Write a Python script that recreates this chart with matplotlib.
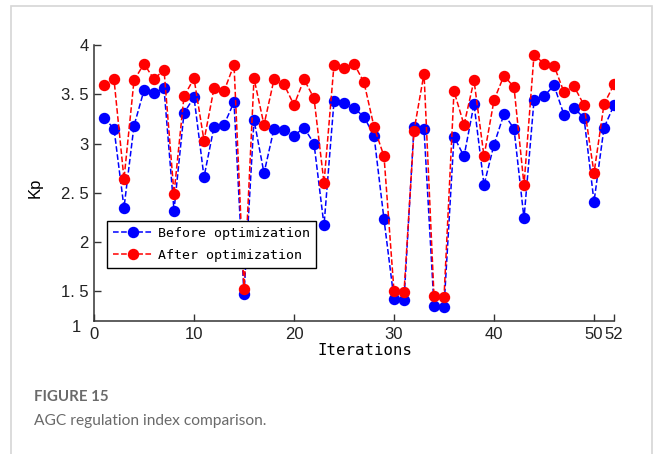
import matplotlib
matplotlib.use('Agg')
import matplotlib.pyplot as plt
from matplotlib.patches import Rectangle

iterations = list(range(1, 53))

before_opt = [3.26, 3.15, 2.35, 3.18, 3.54, 3.51, 3.56, 2.32, 3.31, 3.47,
              2.66, 3.17, 3.19, 3.42, 1.47, 3.24, 2.70, 3.15, 3.14, 3.08,
              3.16, 3.00, 2.17, 3.43, 3.41, 3.36, 3.27, 3.08, 2.23, 1.42,
              1.41, 3.17, 3.15, 1.35, 1.34, 3.07, 2.87, 3.40, 2.58, 2.99,
              3.30, 3.15, 2.24, 3.44, 3.48, 3.59, 3.29, 3.36, 3.26, 2.41,
              3.16, 3.39]

after_opt = [3.59, 3.65, 2.64, 3.64, 3.81, 3.65, 3.75, 2.49, 3.48, 3.66,
             3.03, 3.56, 3.53, 3.80, 1.52, 3.66, 3.19, 3.65, 3.60, 3.39,
             3.65, 3.46, 2.60, 3.80, 3.77, 3.81, 3.62, 3.17, 2.87, 1.50,
             1.49, 3.13, 3.71, 1.45, 1.44, 3.53, 3.19, 3.64, 2.87, 3.44,
             3.69, 3.57, 2.58, 3.90, 3.81, 3.79, 3.52, 3.58, 3.39, 2.70,
             3.40, 3.60]

xticks = [0, 10, 20, 30, 40, 50, 52]
yticks = [1.5, 2, 2.5, 3, 3.5, 4]
ytick_labels = ['1. 5', '2', '2. 5', '3', '3. 5', '4']

mono = 'DejaVu Sans Mono'
sans = 'Liberation Sans'

fig = plt.figure(figsize=(6.56, 4.54), dpi=100)

# light frame around the figure panel
fig.patches.append(Rectangle((0.0168, -0.02), 0.977, 1.0068, transform=fig.transFigure,
                             fill=False, edgecolor='#d6d6d6', linewidth=1.2))

ax = fig.add_axes([0.1433, 0.293, 0.7927, 0.608])

ax.plot(iterations, before_opt, '--o', color='#0000ff', lw=1.1, ms=7.2,
        label='Before optimization')
ax.plot(iterations, after_opt, '--o', color='#ff0000', lw=1.1, ms=7.2,
        label='After optimization')

ax.set_xlim(0, 52)
ax.set_ylim(1.2, 4.0)
ax.set_xticks(xticks)
ax.set_xticklabels([str(t) for t in xticks], fontfamily=sans, fontsize=12)
ax.set_yticks(yticks)
ax.set_yticklabels(ytick_labels, fontfamily=sans, fontsize=12)
ax.tick_params(direction='in', length=5, width=1, pad=4, color='#333333',
               labelcolor='#222222')
ax.spines['top'].set_visible(False)
ax.spines['right'].set_visible(False)
for s in ['left', 'bottom']:
    ax.spines[s].set_linewidth(1.1)
    ax.spines[s].set_color('#333333')

# stray "1" label at the bottom of the y axis
ax.text(-0.025, -0.025, '1', transform=ax.transAxes, ha='right', va='center',
        fontfamily=sans, fontsize=12, color='#222222')

ax.set_xlabel('Iterations', fontfamily=mono, fontsize=11.3)
ax.xaxis.set_label_coords(0.521, -0.08)
ax.set_ylabel('Kp', fontfamily=sans, fontsize=12)
ax.yaxis.set_label_coords(-0.098, 0.482)

leg = ax.legend(loc='upper left', bbox_to_anchor=(0.025, 0.362), fancybox=False,
                edgecolor='black', framealpha=1, prop={'family': mono, 'size': 9.5},
                handlelength=3, handletextpad=0.45, borderpad=0.45,
                labelspacing=0.65, borderaxespad=0)
leg.get_frame().set_linewidth(1.0)

fig.text(0.052, 0.126, 'FIGURE 15', fontfamily='Lato', fontweight='bold',
         fontsize=10.8, color='#6a6a6a', va='center')
fig.text(0.052, 0.073, 'AGC regulation index comparison.', fontfamily='Lato',
         fontsize=11.2, color='#6a6a6a', va='center')

fig.savefig('out.png', dpi=100)
